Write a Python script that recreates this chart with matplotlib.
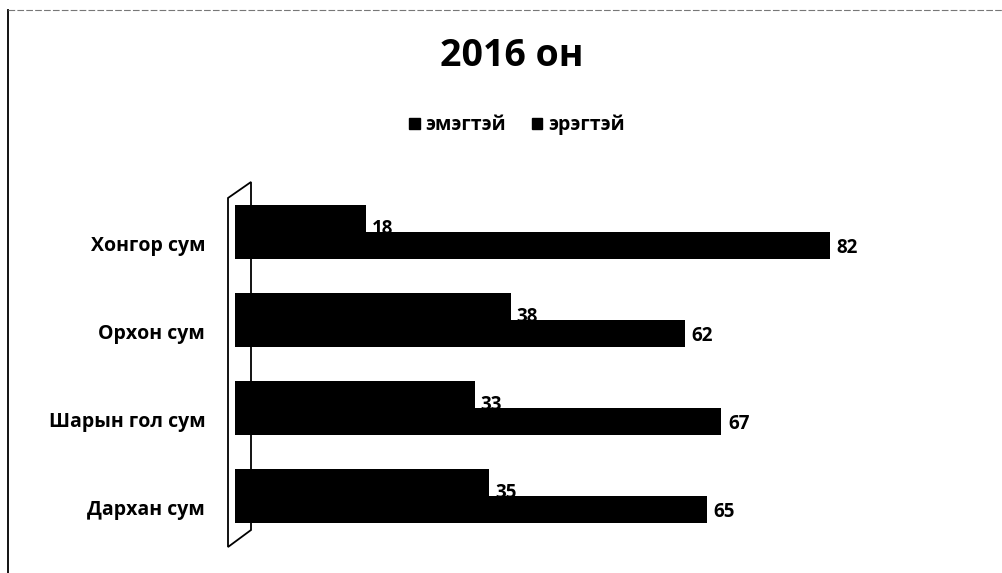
import matplotlib
matplotlib.use("Agg")
import matplotlib.pyplot as plt
from matplotlib.patches import Polygon, Rectangle
from matplotlib.lines import Line2D

categories = ["Хонгор сум", "Орхон сум", "Шарын гол сум", "Дархан сум"]
emegtei = [18, 38, 33, 35]
eregtei = [82, 62, 67, 65]
series_names = ["эмэгтэй", "эрэгтэй"]
title = "2016 он"

FONT = ["Open Sans", "DejaVu Sans"]
plt.rcParams["font.family"] = FONT

W, H = 1002, 573
fig = plt.figure(figsize=(W / 100, H / 100), dpi=100)

def fx(px):
    return px / W

def fy(py):
    return 1 - py / H

left_px, top_px, bot_px = 235, 180, 548
xmax = 90
scale = 7.26
ax = fig.add_axes([fx(left_px), fy(bot_px), (xmax * scale) / W, (bot_px - top_px) / H])
spacing = 88.0
center0 = 232.0
ax.set_xlim(0, xmax)
ax.set_ylim((bot_px - center0) / spacing, (top_px - center0) / spacing)
ax.axis("off")

n = len(categories)
ys = list(range(n))
h = 0.31
off = 0.155
ax.barh([y - off for y in ys], emegtei, height=h, color="black", linewidth=0)
ax.barh([y + off for y in ys], eregtei, height=h, color="black", linewidth=0)

for y, v in zip(ys, emegtei):
    ax.text(v + 0.8, y - off + 0.12, str(v), ha="left", va="center",
            fontsize=13.5, fontweight="bold", color="black")
for y, v in zip(ys, eregtei):
    ax.text(v + 0.9, y + off + 0.03, str(v), ha="left", va="center",
            fontsize=13.5, fontweight="bold", color="black")
for y, c in zip(ys, categories):
    ax.text(-4.1, y + 0.16, c, ha="right", va="center",
            fontsize=14, fontweight="bold", color="black")

# 3D side wall
wall = Polygon([(fx(228), fy(198)), (fx(251), fy(182)), (fx(251), fy(530)), (fx(228), fy(547))],
               closed=True, fill=False, edgecolor="black", linewidth=1.3,
               transform=fig.transFigure, zorder=0)
fig.patches.append(wall)

# outer frame (left and top edges)
fig.add_artist(Line2D([fx(8), fx(8)], [fy(10), 0], color="black", linewidth=1.3))
fig.add_artist(Line2D([fx(8), 1], [fy(10), fy(10)], color="#777777", linewidth=0.8,
                      linestyle=(0, (6, 2))))

fig.text(fx(512), fy(56), title, ha="center", va="center", fontsize=27,
         fontweight="bold", color="black")

handles = [Rectangle((0, 0), 1, 1, color="black"), Rectangle((0, 0), 1, 1, color="black")]
fig.legend(handles, series_names, loc="center", bbox_to_anchor=(fx(517), fy(125)),
           ncol=2, frameon=False,
           prop={"family": FONT, "size": 14, "weight": "bold"},
           handlelength=0.55, handleheight=0.55,
           handletextpad=0.3, columnspacing=1.3)

fig.savefig("out.png", dpi=100)
